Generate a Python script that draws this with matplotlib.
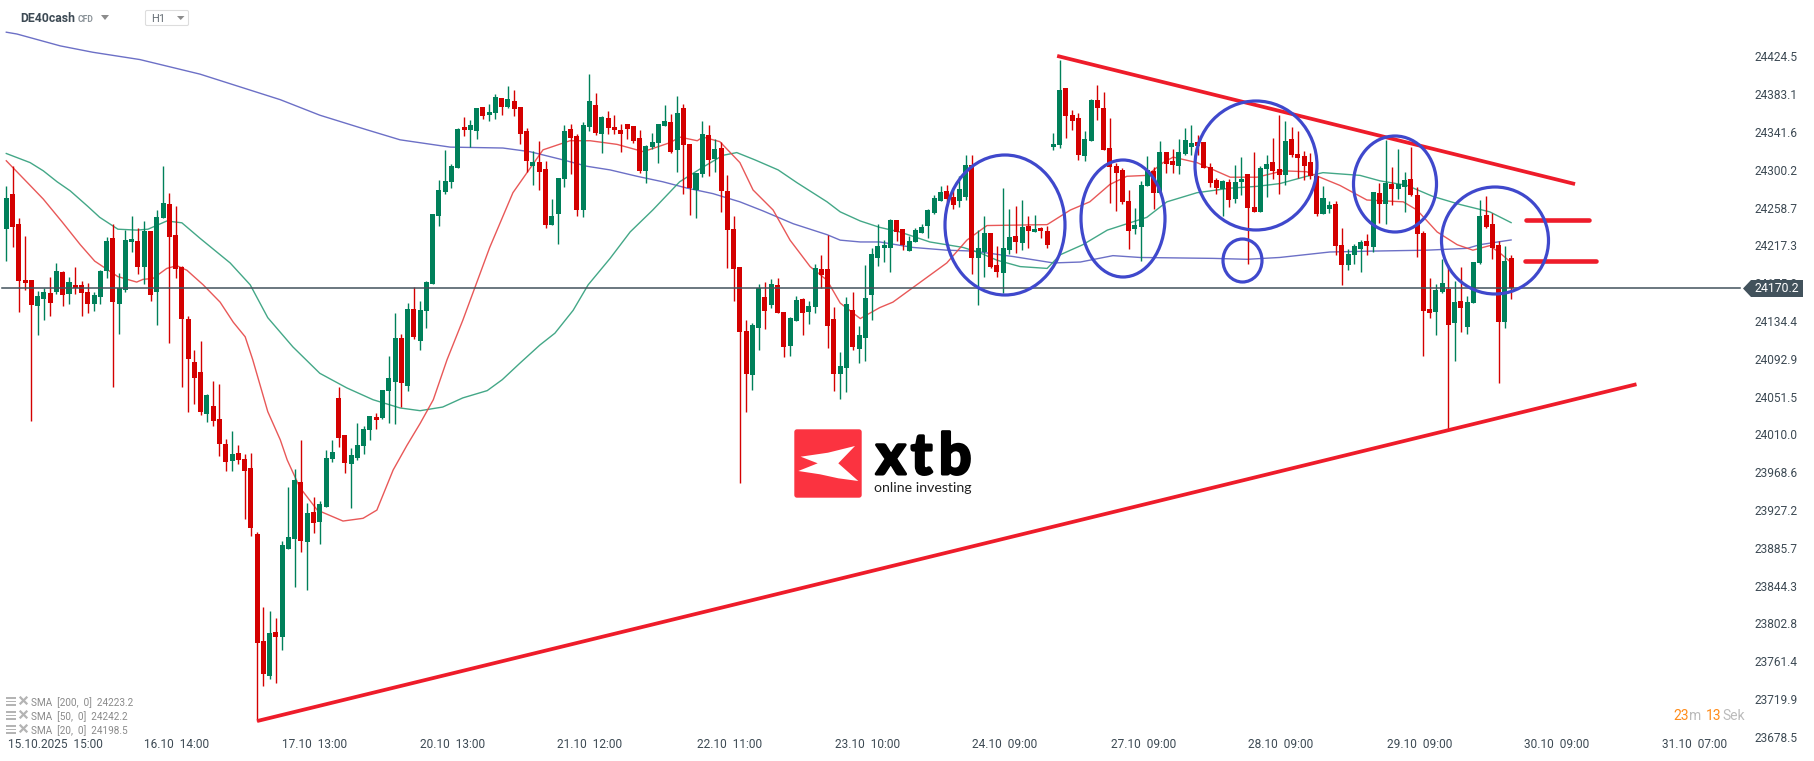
# DE40cash H1 candle chart with SMAs and hand drawn trend lines
import numpy as np, matplotlib
matplotlib.use('Agg')
import matplotlib.pyplot as plt
import matplotlib.patheffects as pe
from matplotlib.patches import Ellipse, Polygon, Rectangle, FancyBboxPatch

plt.rcParams['font.family'] = ['Roboto', 'DejaVu Sans']

highs = [24282,24304,24247,24228,24179,24167,24170,24183,24198,24189,
 24183,24194,24178,24176,24166,24190,24226,24241,24187,24234,
 24249,24236,24244,24233,24256,24304,24275,24260,24195,24140,
 24103,24112,24054,24069,24065,24005,24014,23998,23988,23990,
 23903,23821,23816,23809,23893,23952,23972,24004,23935,23941,
 23937,23993,24004,24062,24009,23995,24023,24019,24030,24033,
 24059,24096,24143,24120,24154,24172,24156,24178,24252,24289,
 24322,24307,24346,24358,24355,24368,24369,24372,24383,24379,
 24392,24388,24369,24346,24321,24332,24310,24268,24291,24349,
 24350,24339,24352,24405,24384,24359,24365,24360,24350,24350,
 24348,24344,24327,24341,24350,24371,24361,24381,24372,24328,
 24297,24354,24349,24334,24331,24294,24250,24194,24135,24132,
 24175,24177,24180,24182,24144,24139,24162,24160,24156,24197,
 24207,24229,24150,24100,24161,24166,24129,24196,24214,24241,
 24223,24246,24245,24235,24228,24236,24241,24257,24273,24282,
 24284,24278,24293,24316,24316,24234,24249,24231,24217,24280,
 24257,24260,24267,24249,24251,24237,24239,24340,24421,24390,
 24366,24362,24343,24378,24393,24385,24357,24308,24302,24278,
 24258,24288,24315,24303,24332,24320,24323,24334,24346,24349,
 24338,24331,24308,24291,24289,24290,24305,24314,24296,24320,
 24304,24316,24335,24360,24354,24347,24343,24321,24319,24294,
 24282,24266,24266,24236,24213,24219,24223,24230,24276,24286,
 24333,24303,24323,24298,24325,24281,24233,24182,24175,24202,
 24196,24178,24194,24162,24199,24267,24271,24253,24222,24217,24207]

lows = [24200,24216,24144,24168,24025,24119,24135,24140,24164,24151,
 24153,24164,24140,24143,24145,24153,24182,24062,24120,24166,
 24210,24186,24175,24156,24130,24247,24110,24182,24062,24035,
 24043,24031,24024,24019,23986,23970,23970,23978,23917,23899,
 23696,23734,23742,23737,23774,23884,23843,23881,23839,23902,
 23890,23930,23980,23996,23968,23929,23982,23988,24004,24016,
 24027,24023,24021,24040,24058,24115,24103,24127,24175,24239,
 24274,24280,24302,24337,24325,24334,24356,24354,24356,24360,
 24368,24359,24328,24298,24283,24278,24236,24240,24219,24281,
 24296,24250,24248,24343,24338,24318,24339,24339,24320,24334,
 24330,24297,24286,24323,24308,24348,24319,24298,24274,24251,
 24247,24292,24293,24298,24254,24192,24156,23957,24035,24059,
 24102,24126,24149,24143,24095,24096,24134,24119,24131,24143,
 24171,24105,24058,24049,24057,24102,24088,24091,24135,24195,
 24199,24188,24222,24212,24211,24221,24231,24225,24252,24266,
 24265,24257,24259,24267,24186,24152,24183,24192,24183,24165,
 24208,24209,24212,24214,24232,24225,24214,24322,24324,24335,
 24344,24311,24310,24332,24355,24322,24264,24255,24263,24213,
 24230,24200,24282,24257,24275,24297,24297,24296,24316,24316,
 24316,24302,24281,24274,24249,24259,24264,24273,24197,24254,
 24254,24270,24290,24274,24283,24314,24291,24289,24290,24249,
 24252,24253,24207,24174,24190,24197,24188,24207,24210,24242,
 24241,24262,24268,24254,24271,24204,24096,24138,24119,24165,
 24016,24091,24122,24120,24154,24197,24236,24202,24066,24127,24158]

opens = [24235,24274,24241,24179,24179,24151,24158,24165,24166,24188,
 24164,24174,24174,24166,24153,24161,24189,24225,24153,24168,
 24221,24222,24194,24233,24166,24247,24263,24229,24194,24137,
 24089,24078,24032,24041,24027,23999,23981,23990,23983,23973,
 23901,23783,23745,23793,23788,23884,23895,23958,23892,23925,
 23914,23930,23983,24050,24009,23978,23984,23997,24015,24029,
 24028,24058,24068,24116,24063,24147,24112,24145,24175,24250,
 24276,24287,24302,24347,24344,24343,24369,24360,24362,24379,
 24369,24376,24369,24343,24304,24309,24301,24240,24252,24290,
 24345,24337,24256,24347,24371,24339,24357,24347,24344,24350,
 24348,24335,24299,24325,24330,24348,24352,24322,24368,24328,
 24278,24296,24338,24312,24324,24277,24235,24194,24123,24075,
 24127,24161,24152,24174,24144,24107,24134,24159,24144,24150,
 24191,24191,24137,24076,24083,24146,24104,24116,24163,24203,
 24214,24214,24245,24235,24211,24221,24231,24239,24253,24266,
 24277,24270,24266,24270,24305,24203,24210,24231,24196,24187,
 24212,24228,24220,24239,24232,24236,24233,24325,24327,24390,
 24360,24357,24315,24332,24377,24368,24324,24304,24300,24266,
 24235,24237,24282,24299,24275,24320,24310,24304,24317,24325,
 24331,24331,24303,24289,24279,24287,24268,24287,24296,24259,
 24254,24301,24309,24301,24294,24334,24317,24315,24309,24293,
 24252,24257,24263,24218,24196,24207,24213,24222,24216,24275,
 24263,24285,24279,24281,24290,24272,24231,24147,24144,24166,
 24169,24132,24156,24128,24154,24198,24251,24241,24218,24133,24203]

closes = [24269,24237,24178,24176,24152,24162,24166,24154,24189,24163,
 24177,24171,24165,24153,24163,24189,24222,24155,24170,24223,
 24224,24194,24233,24163,24248,24264,24226,24191,24137,24093,
 24072,24035,24053,24025,23999,23980,23988,23982,23970,23907,
 23781,23747,23792,23788,23889,23897,23960,23893,23924,23913,
 23934,23984,23991,24006,23979,23987,23998,24016,24030,24026,
 24059,24072,24116,24066,24147,24117,24146,24177,24252,24278,
 24288,24304,24345,24344,24349,24368,24359,24364,24380,24369,
 24378,24367,24339,24310,24309,24298,24240,24250,24291,24343,
 24335,24256,24349,24376,24341,24358,24346,24344,24339,24345,
 24332,24299,24326,24331,24350,24354,24320,24362,24327,24280,
 24297,24339,24311,24323,24277,24234,24191,24122,24076,24130,
 24170,24145,24175,24143,24106,24138,24157,24143,24151,24192,
 24185,24129,24076,24085,24153,24106,24119,24160,24208,24217,
 24218,24245,24232,24218,24222,24234,24237,24256,24269,24276,
 24268,24262,24279,24305,24203,24214,24231,24194,24188,24214,
 24226,24221,24237,24233,24235,24233,24218,24328,24388,24359,
 24354,24316,24334,24377,24368,24322,24303,24297,24265,24233,
 24240,24284,24300,24275,24320,24307,24305,24320,24333,24330,
 24326,24302,24286,24280,24288,24267,24287,24290,24258,24254,
 24302,24307,24299,24294,24332,24316,24313,24304,24293,24252,
 24269,24262,24217,24196,24208,24217,24221,24217,24276,24263,
 24286,24279,24285,24289,24272,24230,24145,24143,24168,24176,
 24130,24155,24149,24155,24199,24249,24237,24214,24133,24200,24170.2]

# moving averages, read at a number of positions along the line
sma200_bars = [0,1.7,8.6,13.8,21.3,30.9,37.3,43.7,50,57.5,62.8,70.8,79.2,83.5,88.8,92.6,96.3,100.6,104.7,108.6,112.7,117,120.7,125.5,130.9,133,136.2,139.3,144.6,150,154.2,160.6,167,171.3,176.5,180.8,192.5,197.9,203.1,211.1,218,226.6,233,235,240]
sma200 = [24451,24449,24436,24429,24421,24405,24391,24377,24360,24344,24333,24325,24324,24320,24311,24304,24300,24293,24287,24280,24274,24265,24255,24241,24229,24223,24221,24221,24215,24212,24211,24205,24198,24199,24206,24204,24203,24202,24204,24210,24211,24212,24214,24218,24223.2]

sma50_bars = [0,3.8,5.9,8.1,10.2,13,14.9,17.8,20.8,22.6,25.6,28,30.9,35.7,38.9,41.7,45.7,50,54.3,58.5,62.8,66,69.6,72.8,76.7,79.1,81.9,85.1,87.5,90.4,92.8,96.3,99.5,103.1,107.4,111.1,114.3,116.5,119.4,123.1,126.1,130.9,133,136.2,139.3,142.5,147.3,152.6,155.3,158,161.7,166,168.1,171.7,175.6,179.2,181.9,185.1,189.9,195.2,199.5,203.1,207.4,210,215.9,219.1,223.4,227.5,231.9,236.6,240]
sma50 = [24318,24308,24299,24287,24277,24260,24248,24235,24234,24235,24244,24242,24225,24198,24174,24138,24106,24077,24061,24048,24039,24036,24040,24050,24058,24070,24088,24108,24121,24146,24174,24203,24232,24256,24287,24303,24316,24319,24311,24300,24286,24265,24254,24244,24237,24232,24221,24215,24209,24201,24194,24192,24207,24218,24234,24242,24248,24265,24275,24280,24282,24285,24293,24297,24294,24288,24283,24271,24262,24254,24242.2]

sma20_bars = [0,3.8,5.9,8.9,11.8,14.1,17.8,20.8,21.8,23.4,25.6,27.2,28.8,31.4,34.1,36.2,38.1,39.3,41.7,43.7,44.8,46.8,49.6,53.7,56.9,59.1,61.7,63.9,66,68.1,70.3,72.8,77.1,80.8,85.6,89.9,93.1,97.4,101.6,105.9,107.4,110.2,111.1,113.8,117,119.1,122.3,125,128.2,130.9,133,136.2,139.3,141.4,144.6,150,153.2,156.4,166,169.7,172.8,176,178.7,181.9,184.5,186.1,189.9,195.2,199.5,203.6,207.4,209.5,212.7,217,222.8,225,228.2,231.4,233.9,236.6,238.2,240]
sma20 = [24310,24283,24268,24243,24218,24200,24183,24177,24180,24181,24192,24195,24190,24174,24155,24133,24117,24092,24035,24004,23982,23952,23927,23915,23918,23927,23971,23998,24022,24048,24092,24135,24215,24275,24322,24332,24332,24328,24320,24330,24336,24332,24336,24331,24308,24278,24256,24223,24194,24179,24154,24137,24149,24155,24171,24198,24223,24239,24240,24256,24265,24284,24293,24294,24308,24314,24308,24292,24292,24299,24298,24292,24283,24267,24265,24256,24232,24218,24212,24217,24209,24198.5]

price_ticks = [24424.5,24383.1,24341.6,24300.2,24258.7,24217.3,24175.8,24134.4,24092.9,24051.5,24010.0,23968.6,23927.2,23885.7,23844.3,23802.8,23761.4,23719.9,23678.5]
time_ticks = [7.8,27.2,49.2,71.2,93.1,115.3,137.3,159.3,181.4,203.3,225.5,247.3,269.3]
time_labels = ['15.10.2025  15:00','16.10  14:00','17.10  13:00','20.10  13:00','21.10  12:00','22.10  11:00','23.10  10:00','24.10  09:00','27.10  09:00','28.10  09:00','29.10  09:00','30.10  09:00','31.10  07:00']
last_price = 24170.2

# drawn objects (bar, price)
trend_top = ([167.6, 250.2], [24425, 24284.5])
trend_bottom = ([40, 260], [23695.7, 24065])
level_marks = [([242.4, 252.4], [24245, 24245]), ([242.2, 253.6], [24200, 24200])]

RED, GREEN = '#d40000', '#00805a'
DARK = '#3d4a54'

fig = plt.figure(figsize=(18.15, 7.61), dpi=100)
ax = fig.add_axes([0, 0, 1, 1])
ax.set_xlim(-6.3/6.27, (1815-6.3)/6.27)
ax.set_ylim(23651.9, 24486.3)
for s in ax.spines.values():
    s.set_visible(False)

# SMAs sit under the candles
ax.plot(sma200_bars, sma200, color='#5c60c0', lw=1.0, zorder=1, alpha=.9)
ax.plot(sma50_bars, sma50, color='#2f9e7a', lw=1.0, zorder=1, alpha=.9)
ax.plot(sma20_bars, sma20, color='#e64646', lw=1.0, zorder=1, alpha=.9)

o, h, l, c = map(np.array, (opens, highs, lows, closes))
bars = np.arange(len(o))
cols = np.where(c >= o, GREEN, RED)
ax.vlines(bars, l, h, colors=cols, lw=1.0, zorder=2)
ax.bar(bars, np.abs(c-o), bottom=np.minimum(o, c), width=0.8, color=cols, lw=0, zorder=3)

ax.plot([-0.7, 276.5], [last_price, last_price], color='#42525c', lw=1.1, zorder=4)

ax.plot(*trend_top, color='#ee1c2a', lw=2.7, zorder=5, solid_capstyle='butt')
ax.plot(*trend_bottom, color='#ee1c2a', lw=2.7, zorder=5, solid_capstyle='butt')
for xs, ys in level_marks:
    ax.plot(xs, ys, color='#ee1c2a', lw=3.3, zorder=5, solid_capstyle='round')

ax.yaxis.tick_right()
ax.set_yticks(price_ticks)
ax.set_yticklabels([f'{p:.1f}' for p in price_ticks])
ax.tick_params(axis='y', length=0, pad=-43.4, labelsize=8.6, labelcolor=DARK)
ax.set_xticks(time_ticks)
ax.set_xticklabels(time_labels)
ax.tick_params(axis='x', length=0, pad=-16.5, labelsize=8.6, labelcolor=DARK)

# overlay in screen pixels for the circles, logo and platform furniture
ov = fig.add_axes([0, 0, 1, 1], facecolor='none')
ov.set_xlim(0, 1815)
ov.set_ylim(761, 0)
ov.axis('off')

for cx, cy, w, hh in [(1005,225,120,140), (1123,218.5,84,117), (1256,165.5,122,129), (1242.5,260.5,39,43), (1395,184,83,96), (1495,240.5,107,107)]:
    ov.add_patch(Ellipse((cx, cy), w, hh, fill=False, ec='#3f48cc', lw=2.3, zorder=6))

# current price tag
ov.add_patch(Polygon([(1743,288.5),(1751,280),(1803,280),(1803,297),(1751,297)], fc='#42525c', ec='none', zorder=7))
ov.text(1755, 288.8, '24170.2', color='white', fontsize=8.8, va='center', ha='left', zorder=8)

# logo
ov.add_patch(FancyBboxPatch((795,430), 66, 67, boxstyle='round,pad=0,rounding_size=2', fc='#fb3340', ec='#fb3340', lw=1, zorder=6))
ov.add_patch(Polygon([(800.7,456.7),(828,452.7),(855,446),(838.3,463.3),(858.3,481),(838.3,478.3),(820,474.3),(798.3,471),(817.7,463.3)], fc='white', ec='none', zorder=7))
heavy = [pe.withStroke(linewidth=2.2, foreground='black')]
for lx, letter in [(876, 'x'), (911, 't'), (939, 'b')]:
    ov.text(lx, 474, letter, color='black', fontsize=41, family='Lato', fontweight='bold', va='baseline', ha='left', zorder=6, path_effects=heavy)
ov.text(874, 488.5, 'online investing', color='#222222', fontsize=10.2, family='Lato', fontweight='normal', va='center', ha='left', zorder=6)

# header
ov.text(20, 19, 'DE40cash', color=DARK, fontsize=8.8, fontweight='bold', va='center', ha='left')
ov.text(78, 19.5, 'CFD', color='#8a9298', fontsize=6.2, fontweight='bold', va='center', ha='left')
ov.add_patch(Polygon([(101,15),(109,15),(105,20)], fc='#8c8c8c', ec='none'))
ov.add_patch(FancyBboxPatch((145.5,10.5), 43, 15, boxstyle='round,pad=0,rounding_size=1.5', fc='white', ec='#dddddd', lw=0.8))
ov.text(151, 19.5, 'H1', color='#666f75', fontsize=8, va='center', ha='left')
ov.add_patch(Polygon([(177,16),(184.5,16),(180.7,20)], fc='#8c8c8c', ec='none'))

# SMA legend
for y, txt in zip([702, 716, 730], ['SMA  [200,  0]  24223.2', 'SMA  [50,  0]  24242.2', 'SMA  [20,  0]  24198.5']):
    for dy in (-4, -0.5, 3):
        ov.add_patch(Rectangle((6, y+dy-1), 10, 1.8, fc='#b4b4b4', ec='none'))
    ov.plot([20.5, 26.5], [y-4.5, y+1.5], color='#b4b4b4', lw=1.6)
    ov.plot([20.5, 26.5], [y+1.5, y-4.5], color='#b4b4b4', lw=1.6)
    ov.text(31, y+0.5, txt, color='#8a8a8a', fontsize=7.2, va='center', ha='left')

# candle countdown
ov.text(1673, 716, '23', color='#ff8c1a', fontsize=10, va='center', ha='left')
ov.text(1689.5, 716, 'm', color='#bbbbbb', fontsize=10, va='center', ha='left')
ov.text(1706, 716, '13', color='#ff8c1a', fontsize=10, va='center', ha='left')
ov.text(1722.5, 716, 'Sek', color='#bbbbbb', fontsize=10, va='center', ha='left')

fig.savefig('out.png', dpi=100)
